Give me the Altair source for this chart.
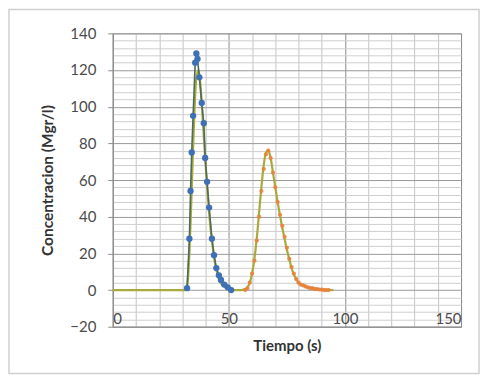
import altair as alt
import pandas as pd

# Experimental series 1 (blue)
blue_t = [32, 33, 33.5, 34, 34.6, 35.5, 36, 36.5, 37.3, 38.3, 39.2, 39.8, 40.6, 41.5, 42.7, 43.6, 44.6, 45.7, 46.6, 48, 49.5, 51]
blue_c = [1, 28, 54, 75, 95, 124, 129, 126, 116, 102, 91, 72, 59, 45, 28, 19, 12, 8, 5.5, 3, 1.5, 0]

# Experimental series 2 (orange)
orange_t = [57, 58, 59, 60, 61, 62, 63, 64, 65, 66, 67, 68, 69, 70, 71, 72, 73, 74, 75, 76, 77, 78,
            79, 80, 81, 82, 83, 84, 85, 86, 87, 88, 89, 90, 91, 92, 93]
orange_c = [0, 1, 4, 9, 16, 27, 40, 54, 66, 74, 76, 72, 64, 56, 48, 41, 35, 29, 23, 17, 12.5, 9,
            6, 4, 3, 2.5, 2, 1.5, 1, 1, 0.5, 0.5, 0.3, 0.2, 0, 0, 0]

# Model (fit) curve
model_t = [0, 10, 20, 30, 31, 32, 33, 34, 35, 36, 37, 38, 39, 40, 41, 42, 43, 44, 45, 46, 47, 48, 50, 52,
           55, 57, 58, 59, 60, 61, 62, 63, 64, 65, 66, 67, 68, 69, 70, 71, 72, 73, 74, 75, 76, 77, 78,
           79, 80, 82, 84, 87, 90, 95]
model_c = [0, 0, 0, 0, 0, 2, 20, 55, 92, 116, 120, 108, 88, 68, 50, 35, 24, 15, 9, 5, 3, 2, 0.5, 0,
           0, 0.5, 1.5, 4, 9, 17, 28, 42, 56, 68, 75, 76, 72, 64, 56, 48, 41, 34, 28, 22, 17, 12, 8.5,
           6, 4, 2.5, 1.5, 0.8, 0.3, 0]

x_ticks = list(range(0, 151, 10))
y_ticks = list(range(-20, 141, 4))

FONT = "Lato"

blue_df = pd.DataFrame({"t": blue_t, "c": blue_c})
orange_df = pd.DataFrame({"t": orange_t, "c": orange_c})
model_df = pd.DataFrame({"t": model_t, "c": model_c})

xscale = alt.Scale(domain=[0, 150], nice=False, zero=False)
yscale = alt.Scale(domain=[-20, 140], nice=False, zero=False)

x_axis = alt.Axis(
    values=x_ticks,
    labelExpr="datum.value % 50 === 0 ? datum.label : ''",
    labelOverlap=False,
    title="Tiempo (s)",
    titleFont=FONT, titleFontSize=15, titleFontWeight="bold", titleColor="#333333",
    titlePadding=12,
    labelFont=FONT, labelFontSize=15, labelColor="#4a4a4a",
    labelPadding=-15, ticks=False,
    gridColor={"condition": {"test": "datum.value % 50 === 0", "value": "#8c8c8c"}, "value": "#c4c4c4"},
    gridWidth=1,
    domainColor="#8c8c8c",
)
y_axis = alt.Axis(
    values=y_ticks,
    labelExpr="datum.value % 20 === 0 ? datum.label : ''",
    labelOverlap=False,
    title="Concentracion (Mgr/l)",
    titleFont=FONT, titleFontSize=15.5, titleFontWeight="bold", titleColor="#333333",
    titlePadding=14,
    labelFont=FONT, labelFontSize=15, labelColor="#4a4a4a",
    labelPadding=12, tickSize=5,
    tickColor={"condition": {"test": "datum.value % 20 === 0", "value": "#8c8c8c"}, "value": "transparent"},
    gridColor={"condition": {"test": "datum.value % 20 === 0", "value": "#9a9a9a"}, "value": "#cfcfcf"},
    gridWidth=1,
    domainColor="#8c8c8c",
)

X = alt.X("t:Q", scale=xscale, axis=x_axis)
Y = alt.Y("c:Q", scale=yscale, axis=y_axis)

frame = alt.Chart(pd.DataFrame({"k": [0]})).mark_rect(
    fill=None, stroke="#d0d0d0", strokeWidth=1.5, clip=False
).encode(
    x=alt.value(-104), x2=alt.value(367), y=alt.value(-24), y2=alt.value(341)
)

model_line = alt.Chart(model_df).mark_line(color="#a9aa3a", strokeWidth=2.2, interpolate="monotone").encode(
    x=X, y=Y
)
blue_line = alt.Chart(blue_df).mark_line(color="#4d6a5c", strokeWidth=1.6).encode(x=X, y=Y)
blue_pts = alt.Chart(blue_df).mark_point(filled=True, color="#3f6fb5", size=40, opacity=1).encode(x=X, y=Y)
orange_pts = alt.Chart(orange_df).mark_point(filled=True, color="#e8823a", size=18, opacity=0.9).encode(x=X, y=Y)

chart = alt.layer(model_line, blue_line, blue_pts, orange_pts, frame).properties(
    width=349, height=294,
    autosize=alt.AutoSizeParams(type="none"),
    padding={"left": 105, "top": 25, "right": 20, "bottom": 50},
    background="white",
).configure_view(stroke="#9a9a9a", strokeWidth=1)

chart.save("out.html", embed_options={"renderer": "svg", "actions": False})
